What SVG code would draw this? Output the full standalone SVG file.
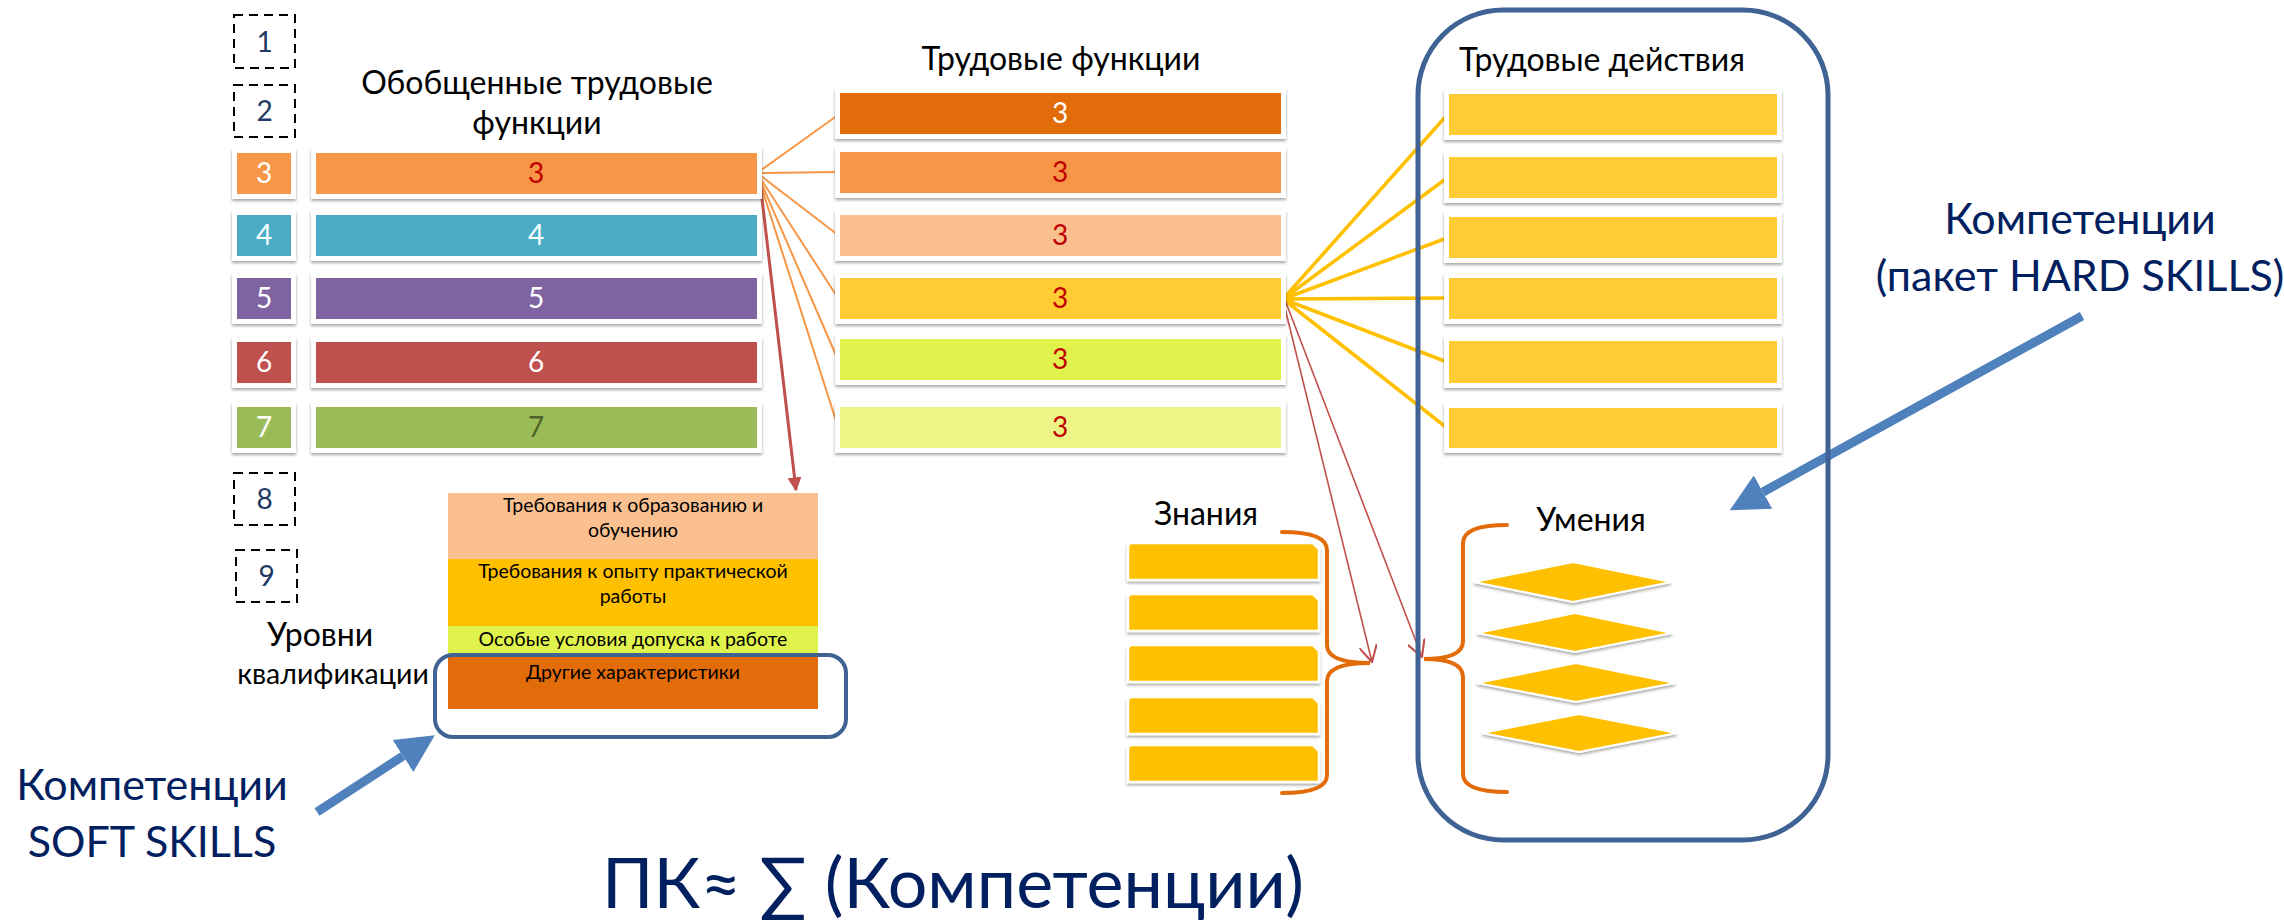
<svg xmlns="http://www.w3.org/2000/svg" width="2284" height="924" viewBox="0 0 2284 924">
<defs>
<style>
text{font-family:Lato,"Open Sans","Noto Sans",sans-serif;}
.hdr{font-size:32px;fill:#000;text-anchor:middle;}
.num{font-size:28px;text-anchor:middle;}
.dnum{font-size:28px;fill:#1F3864;text-anchor:middle;}
.req{font-size:19.5px;fill:#000;text-anchor:middle;}
.comp{font-size:43px;fill:#002060;text-anchor:middle;}
.frame{fill:#fff;filter:url(#sh);}
.dash{fill:none;stroke:#000;stroke-width:2;stroke-dasharray:9 6;}
.of{stroke:#F79646;stroke-width:2;fill:none;}
.yf{stroke:#FFC000;stroke-width:3.5;fill:none;}
.rl{stroke:#C0504D;stroke-width:1.6;fill:none;}
.brace{stroke:#E36C0A;stroke-width:4;fill:none;stroke-linecap:round;}
.blue{stroke:#4F81BD;stroke-width:9;fill:none;}
.cont{fill:none;stroke:#3F6394;stroke-width:5;}
.w{fill:#fff;}
.red{fill:#C00000;}
</style>
<filter id="sh" x="-10%" y="-30%" width="120%" height="170%">
<feDropShadow dx="0" dy="2" stdDeviation="1.6" flood-color="#000" flood-opacity="0.35"/>
</filter>
<marker id="bh" viewBox="0 0 40 40" refX="0" refY="20" markerWidth="38" markerHeight="38" markerUnits="userSpaceOnUse" orient="auto">
<path d="M0,0 L40,20 L0,40 z" fill="#4F81BD"/>
</marker>
<marker id="rh" viewBox="0 0 10 10" refX="9" refY="5" markerWidth="14" markerHeight="14" markerUnits="userSpaceOnUse" orient="auto">
<path d="M0,0 L10,5 L0,10 z" fill="#C0504D"/>
</marker>
<marker id="ro" viewBox="0 0 12 12" refX="11" refY="6" markerWidth="18" markerHeight="18" markerUnits="userSpaceOnUse" orient="auto">
<path d="M0,0 L11,6 L0,12" fill="none" stroke="#C0504D" stroke-width="1.4"/>
</marker>
</defs>
<rect width="2284" height="924" fill="#fff"/>

<g id="connectors">
<path class="of" d="M757,173 L838,115 M757,173 L838,172 M757,173 L838,235 M757,173 L838,298 M757,173 L838,360 M757,173 L838,427"/>
<path class="yf" d="M1283,299 L1447,115 M1283,299 L1447,178 M1283,299 L1447,238 M1283,299 L1447,298 M1283,299 L1447,362 M1283,299 L1447,428"/>
<line x1="759" y1="173" x2="796" y2="490" stroke="#C0504D" stroke-width="3" marker-end="url(#rh)"/>
<line class="rl" x1="1283" y1="300" x2="1372" y2="662" marker-end="url(#ro)"/>
<line class="rl" x1="1285" y1="300" x2="1422" y2="657" marker-end="url(#ro)"/>
<line class="blue" x1="2082" y1="316" x2="1763" y2="492" marker-end="url(#bh)"/>
<line class="blue" x1="317" y1="812" x2="403" y2="756" marker-end="url(#bh)"/>
</g>

<g id="levels">
<g id="lvl1"><rect class="dash" x="234" y="15" width="61" height="53"/><text class="dnum" x="264.5" y="52">1</text></g>
<g id="lvl2"><rect class="dash" x="234" y="85" width="61" height="52"/><text class="dnum" x="264.5" y="121">2</text></g>
<g id="lvl3"><rect class="frame" x="232" y="148" width="64" height="51"/><rect x="237" y="153" width="54" height="41" fill="#F79646"/><text class="num w" x="264" y="183">3</text></g>
<g id="lvl4"><rect class="frame" x="232" y="210" width="64" height="51"/><rect x="237" y="215" width="54" height="41" fill="#4BACC6"/><text class="num w" x="264" y="245">4</text></g>
<g id="lvl5"><rect class="frame" x="232" y="273" width="64" height="51"/><rect x="237" y="278" width="54" height="41" fill="#8064A2"/><text class="num w" x="264" y="308">5</text></g>
<g id="lvl6"><rect class="frame" x="232" y="337" width="64" height="51"/><rect x="237" y="342" width="54" height="41" fill="#C0504D"/><text class="num w" x="264" y="372">6</text></g>
<g id="lvl7"><rect class="frame" x="232" y="402" width="64" height="51"/><rect x="237" y="407" width="54" height="41" fill="#9BBB59"/><text class="num w" x="264" y="437">7</text></g>
<g id="lvl8"><rect class="dash" x="234" y="473" width="61" height="52"/><text class="dnum" x="264.5" y="509">8</text></g>
<g id="lvl9"><rect class="dash" x="236" y="550" width="61" height="52"/><text class="dnum" x="266.5" y="586">9</text></g>
<g id="lvl-label"><text class="hdr" x="320" y="646">Уровни</text><text class="hdr" style="font-size:28.5px" x="333" y="684">квалификации</text></g>
</g>

<g id="otf">
<g id="otf-title"><text class="hdr" x="537" y="94">Обобщенные трудовые</text><text class="hdr" x="537" y="134">функции</text></g>
<g id="otf3"><rect class="frame" x="311" y="148" width="451" height="51"/><rect x="316" y="153" width="441" height="41" fill="#F79646"/><text class="num red" x="536" y="183">3</text></g>
<g id="otf4"><rect class="frame" x="311" y="210" width="451" height="51"/><rect x="316" y="215" width="441" height="41" fill="#4BACC6"/><text class="num w" x="536" y="245">4</text></g>
<g id="otf5"><rect class="frame" x="311" y="273" width="451" height="51"/><rect x="316" y="278" width="441" height="41" fill="#8064A2"/><text class="num w" x="536" y="308">5</text></g>
<g id="otf6"><rect class="frame" x="311" y="337" width="451" height="51"/><rect x="316" y="342" width="441" height="41" fill="#C0504D"/><text class="num w" x="536" y="372">6</text></g>
<g id="otf7"><rect class="frame" x="311" y="402" width="451" height="51"/><rect x="316" y="407" width="441" height="41" fill="#9BBB59"/><text class="num" fill="#4F6228" x="536" y="437">7</text></g>
</g>

<g id="requirements">
<rect x="448" y="493" width="370" height="66" fill="#FAC090"/>
<rect x="448" y="559" width="370" height="67" fill="#FFC000"/>
<rect x="448" y="626" width="370" height="28" fill="#E0F24C"/>
<rect x="448" y="654" width="370" height="55" fill="#E36C0A"/>
<text class="req" x="633" y="512">Требования к образованию и</text>
<text class="req" x="633" y="537">обучению</text>
<text class="req" x="633" y="578">Требования к опыту практической</text>
<text class="req" x="633" y="603">работы</text>
<text class="req" x="633" y="646">Особые условия допуска к работе</text>
<text class="req" x="633" y="679">Другие характеристики</text>
</g>
<g id="soft-frame"><rect x="435" y="655" width="411" height="82" rx="18" fill="none" stroke="#3F6394" stroke-width="4"/></g>

<g id="tf">
<text class="hdr" x="1061" y="70">Трудовые функции</text>
<g id="tf1"><rect class="frame" x="835" y="88" width="451" height="51"/><rect x="840" y="93" width="441" height="41" fill="#E36C0A"/><text class="num w" x="1060" y="123">3</text></g>
<g id="tf2"><rect class="frame" x="835" y="147" width="451" height="51"/><rect x="840" y="152" width="441" height="41" fill="#F79646"/><text class="num red" x="1060" y="182">3</text></g>
<g id="tf3"><rect class="frame" x="835" y="210" width="451" height="51"/><rect x="840" y="215" width="441" height="41" fill="#FAC090"/><text class="num red" x="1060" y="245">3</text></g>
<g id="tf4"><rect class="frame" x="835" y="273" width="451" height="51"/><rect x="840" y="278" width="441" height="41" fill="#FFCD33"/><text class="num red" x="1060" y="308">3</text></g>
<g id="tf5"><rect class="frame" x="835" y="334" width="451" height="51"/><rect x="840" y="339" width="441" height="41" fill="#E0F24C"/><text class="num red" x="1060" y="369">3</text></g>
<g id="tf6"><rect class="frame" x="835" y="402" width="451" height="51"/><rect x="840" y="407" width="441" height="41" fill="#ECF585"/><text class="num red" x="1060" y="437">3</text></g>
</g>

<g id="td">
<rect class="cont" x="1418" y="10" width="410" height="830" rx="85"/>
<text class="hdr" x="1602" y="71">Трудовые действия</text>
<g id="td1"><rect class="frame" x="1444" y="89" width="338" height="51"/><rect x="1449" y="94" width="328" height="41" fill="#FFCD33"/></g>
<g id="td2"><rect class="frame" x="1444" y="152" width="338" height="51"/><rect x="1449" y="157" width="328" height="41" fill="#FFCD33"/></g>
<g id="td3"><rect class="frame" x="1444" y="212" width="338" height="51"/><rect x="1449" y="217" width="328" height="41" fill="#FFCD33"/></g>
<g id="td4"><rect class="frame" x="1444" y="273" width="338" height="51"/><rect x="1449" y="278" width="328" height="41" fill="#FFCD33"/></g>
<g id="td5"><rect class="frame" x="1444" y="336" width="338" height="52"/><rect x="1449" y="341" width="328" height="42" fill="#FFCD33"/></g>
<g id="td6"><rect class="frame" x="1444" y="403" width="338" height="50"/><rect x="1449" y="408" width="328" height="40" fill="#FFCD33"/></g>
</g>

<g id="knowledge">
<text class="hdr" x="1206" y="525">Знания</text>
<g fill="#FFC000" stroke="#fff" stroke-width="2.5" filter="url(#sh)">
<path d="M1132,543 H1313 L1319,549 V580 H1128 V547 Q1128,543 1132,543 z"/>
<path d="M1132,594 H1313 L1319,600 V631 H1128 V598 Q1128,594 1132,594 z"/>
<path d="M1132,645 H1313 L1319,651 V682 H1128 V649 Q1128,645 1132,645 z"/>
<path d="M1132,697 H1313 L1319,703 V734 H1128 V701 Q1128,697 1132,697 z"/>
<path d="M1132,745 H1313 L1319,751 V782 H1128 V749 Q1128,745 1132,745 z"/>
</g>
<path class="brace" d="M1282,532 Q1327,532 1327,550 L1327,645 Q1327,663 1370,663 Q1327,663 1327,681 L1327,775 Q1327,793 1282,793"/>
</g>

<g id="skills">
<text class="hdr" x="1591" y="531">Умения</text>
<path class="brace" d="M1507,525 Q1463,525 1463,543 L1463,641 Q1463,659 1424,659 Q1463,659 1463,677 L1463,774 Q1463,792 1507,792"/>
<g fill="#FFC000" stroke="#fff" stroke-width="2" filter="url(#sh)">
<path d="M1573,562 L1671,582 L1573,602 L1474,582 z"/>
<path d="M1575,613 L1672,633 L1575,652 L1477,633 z"/>
<path d="M1576,663 L1675,683 L1576,702 L1477,683 z"/>
<path d="M1579,714 L1677,733 L1579,752 L1482,733 z"/>
</g>
</g>

<g id="hard-label">
<text class="comp" x="2080" y="234">Компетенции</text>
<text class="comp" x="2080" y="291">(пакет HARD SKILLS)</text>
</g>
<g id="soft-label">
<text class="comp" x="152" y="800">Компетенции</text>
<text class="comp" x="152" y="857">SOFT SKILLS</text>
</g>
<g id="formula">
<text class="comp" style="font-size:70px" x="953" y="908">ПК≈ ∑ (Компетенции)</text>
</g>
</svg>
